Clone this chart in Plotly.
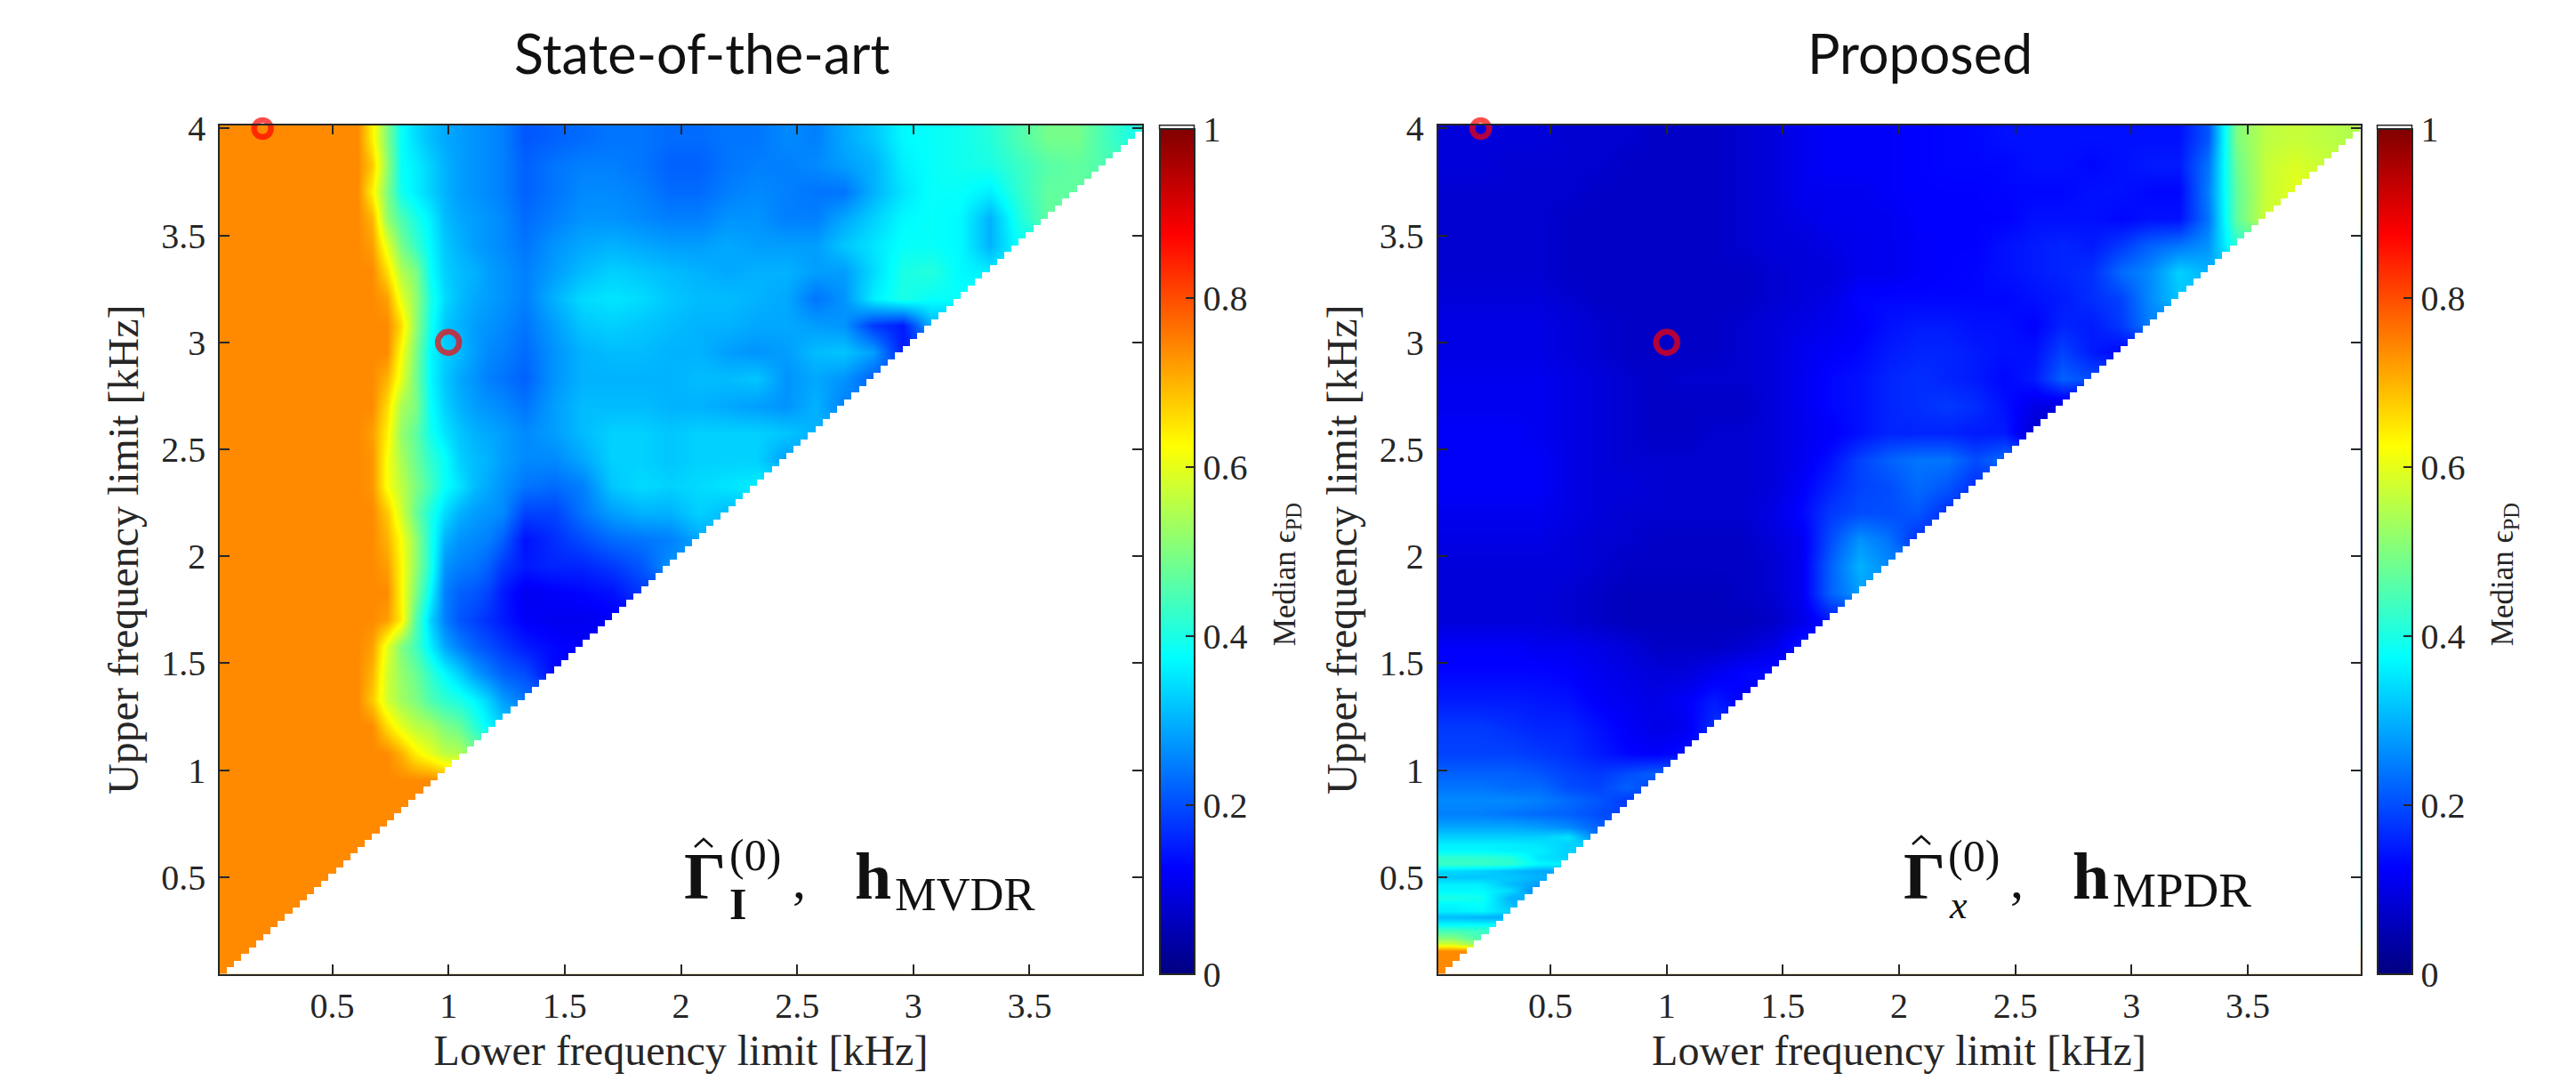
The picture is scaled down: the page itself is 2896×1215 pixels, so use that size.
import numpy as np
import plotly.graph_objects as go

TICKS_X = [0.5, 1, 1.5, 2, 2.5, 3, 3.5]
TICKS_Y = [0.5, 1, 1.5, 2, 2.5, 3, 3.5, 4]
TICKS_C = [0, 0.2, 0.4, 0.6, 0.8, 1]
MARK_X = [0.2, 1]
MARK_Y = [4, 3]

# width (in 31.25 Hz bins) of each typed column / height of each typed row, top row first
LEFT_COL_BINS = [2, 14] + [2] * 12 + [4] * 22
LEFT_ROW_BINS = [4] * 32
RIGHT_COL_BINS = [4] * 32
RIGHT_ROW_BINS = [4] * 24 + [2] * 5 + [1] * 21

LEFT_LOW = [
[.74,.74,.74,.74,.64,.50,.38,.34,.31,.29,.28,.27,.26,.25],
[.74,.74,.74,.74,.68,.52,.38,.36,.33,.30,.28,.27,.26,.25],
[.74,.74,.74,.74,.64,.50,.39,.36,.33,.30,.28,.27,.26,.25],
[.74,.74,.74,.74,.70,.52,.45,.40,.36,.31,.29,.28,.27,.26],
[.74,.74,.74,.74,.72,.60,.49,.43,.37,.32,.30,.28,.27,.26],
[.74,.74,.74,.74,.74,.66,.55,.50,.38,.33,.31,.30,.28,.27],
[.74,.74,.74,.74,.74,.72,.60,.52,.40,.34,.31,.29,.28,.27],
[.74,.74,.74,.74,.74,.74,.66,.52,.39,.32,.30,.28,.27,.26],
[.74,.74,.74,.74,.74,.74,.62,.50,.37,.33,.31,.28,.26,.25],
[.74,.74,.74,.74,.74,.70,.60,.49,.37,.32,.29,.27,.25,.24],
[.74,.74,.74,.74,.74,.66,.54,.50,.38,.33,.30,.28,.27,.26],
[.74,.74,.74,.74,.72,.64,.52,.47,.39,.35,.32,.30,.29,.28],
[.74,.74,.74,.74,.73,.62,.54,.48,.42,.38,.33,.31,.30,.28],
[.74,.74,.74,.74,.73,.62,.56,.50,.44,.38,.35,.31,.29,.27],
[.74,.74,.74,.74,.74,.68,.58,.48,.40,.34,.30,.28,.27,.26],
[.74,.74,.74,.74,.74,.70,.62,.52,.40,.30,.27,.26,.25,.22],
[.74,.74,.74,.74,.74,.72,.63,.52,.40,.27,.25,.24,.22,.18],
[.74,.74,.74,.74,.74,.74,.63,.50,.37,.25,.22,.21,.19,.15],
[.74,.74,.74,.74,.74,.72,.64,.46,.33,.25,.21,.19,.17,.15],
[.74,.74,.74,.74,.72,.60,.50,.44,.36,.29,.25,.22,.20,.18],
[.74,.74,.74,.74,.70,.58,.52,.48,.42,.37,.33,.28,.25,.22],
[.74,.74,.74,.74,.68,.58,.53,.50,.45,.42,.40,.37,.33,.28],
[.74,.74,.74,.74,.74,.66,.60,.56,.54,.50,.48,.42,.37,.33],
[.74,.74,.74,.74,.74,.74,.70,.64,.60,.56,.55,.50],
[.74,.74,.74,.74,.74,.74,.74,.74,.74,.72],
[.74,.74,.74,.74,.74,.74,.74,.74],
[.74,.74,.74,.74,.74,.74],
[.74,.74,.74,.74],
[.74,.74],
[.74,.74],
[.74,.74],
[.74,.74],
]
LEFT_HIGH = [
[.21,.22,.23,.24,.24,.23,.23,.24,.24,.26,.25,.29,.32,.37,.38,.39,.41,.45,.49,.49,.44,.40],
[.22,.24,.25,.25,.24,.22,.22,.24,.25,.25,.26,.28,.30,.36,.38,.39,.40,.43,.46,.47,.45],
[.22,.24,.26,.26,.25,.23,.23,.25,.26,.25,.24,.24,.30,.35,.38,.38,.36,.42,.47,.47],
[.23,.25,.27,.27,.26,.25,.25,.27,.27,.25,.25,.29,.33,.37,.38,.37,.30,.40,.47],
[.24,.27,.29,.30,.29,.28,.28,.29,.28,.28,.28,.32,.35,.38,.38,.37,.30,.38],
[.25,.28,.31,.33,.32,.31,.30,.29,.30,.30,.28,.28,.34,.40,.41,.37,.36],
[.25,.30,.34,.35,.34,.32,.31,.31,.30,.29,.24,.27,.36,.40,.38,.38],
[.24,.28,.32,.33,.32,.31,.30,.30,.29,.29,.28,.27,.18,.15,.30],
[.23,.27,.30,.31,.31,.30,.30,.28,.27,.28,.31,.32,.28,.15],
[.22,.27,.30,.30,.30,.30,.31,.31,.32,.27,.29,.27,.22],
[.24,.28,.31,.31,.31,.30,.30,.29,.28,.27,.30,.25],
[.26,.28,.31,.33,.33,.32,.33,.33,.33,.32,.30],
[.26,.26,.29,.33,.33,.32,.33,.33,.33,.28],
[.24,.23,.25,.32,.34,.33,.34,.35,.36],
[.19,.19,.24,.28,.30,.30,.33,.31],
[.14,.17,.20,.23,.24,.25,.29],
[.15,.16,.16,.18,.21,.27],
[.11,.12,.13,.14,.18],
[.12,.11,.11,.12],
[.15,.13,.12],
[.20,.13],
[.24],
]
RIGHT_VALUES = [
[.09,.09,.09,.09,.08,.08,.08,.07,.07,.07,.08,.09,.11,.12,.12,.12,.125,.13,.13,.14,.14,.14,.14,.14,.14,.14,.21,.50,.56,.57,.56,.55],
[.09,.09,.08,.08,.08,.08,.07,.07,.07,.07,.08,.09,.11,.12,.12,.12,.125,.13,.13,.13,.14,.14,.13,.14,.15,.15,.24,.48,.57,.59,.57],
[.08,.08,.08,.08,.08,.07,.07,.07,.07,.07,.08,.09,.11,.11,.11,.12,.125,.125,.125,.13,.13,.13,.14,.14,.13,.13,.25,.47,.57,.60],
[.08,.08,.08,.08,.07,.07,.07,.07,.07,.07,.08,.09,.10,.11,.11,.11,.125,.125,.125,.125,.14,.14,.14,.13,.14,.14,.24,.47,.58],
[.08,.08,.08,.08,.07,.07,.07,.07,.07,.07,.08,.09,.09,.10,.11,.11,.12,.125,.125,.14,.15,.16,.15,.18,.22,.24,.27,.42],
[.08,.08,.08,.08,.07,.07,.07,.07,.07,.07,.07,.08,.09,.09,.11,.11,.12,.125,.13,.14,.15,.16,.17,.23,.26,.33,.30],
[.09,.09,.09,.09,.08,.07,.07,.07,.07,.07,.07,.08,.09,.10,.13,.13,.13,.13,.13,.13,.14,.15,.17,.19,.26,.32],
[.10,.10,.10,.10,.09,.08,.07,.07,.07,.07,.08,.09,.10,.11,.12,.14,.15,.15,.14,.14,.125,.16,.15,.18,.25],
[.10,.10,.10,.10,.09,.08,.07,.07,.07,.07,.08,.09,.11,.12,.13,.15,.16,.16,.15,.14,.14,.19,.15,.13],
[.11,.11,.11,.11,.10,.09,.08,.07,.08,.08,.08,.09,.11,.13,.14,.16,.17,.16,.15,.13,.15,.22,.20],
[.11,.11,.11,.11,.10,.09,.08,.07,.07,.07,.07,.09,.11,.13,.14,.16,.17,.18,.17,.14,.10,.09],
[.12,.12,.12,.11,.10,.09,.08,.07,.07,.08,.08,.09,.11,.12,.14,.16,.16,.16,.15,.15,.08],
[.12,.12,.12,.12,.10,.09,.08,.08,.08,.08,.08,.09,.11,.14,.19,.22,.24,.24,.20,.23],
[.12,.12,.12,.12,.10,.09,.09,.08,.08,.08,.08,.09,.12,.16,.19,.20,.23,.21,.17],
[.11,.11,.11,.11,.10,.09,.08,.08,.08,.08,.08,.10,.13,.18,.20,.20,.21,.17],
[.10,.10,.10,.10,.09,.08,.08,.07,.07,.07,.07,.09,.11,.20,.27,.24,.17],
[.09,.09,.09,.09,.09,.08,.07,.07,.07,.07,.07,.08,.11,.22,.30,.26],
[.09,.09,.09,.09,.08,.07,.06,.06,.06,.06,.07,.08,.11,.22,.28],
[.09,.09,.09,.09,.08,.07,.06,.06,.06,.06,.06,.07,.10,.15],
[.12,.12,.12,.11,.11,.10,.09,.07,.07,.07,.08,.10,.15],
[.13,.13,.13,.13,.125,.11,.10,.09,.09,.11,.13,.14],
[.15,.15,.15,.145,.14,.12,.11,.10,.12,.15,.12],
[.18,.18,.17,.16,.16,.14,.12,.10,.11,.17],
[.19,.19,.19,.18,.17,.15,.13,.12,.14],
[.22,.22,.22,.21,.19,.18,.20,.22],
[.24,.24,.23,.23,.20,.19,.22,.19],
[.26,.26,.26,.25,.23,.21,.18],
[.25,.25,.24,.23,.22,.20,.19],
[.29,.29,.29,.28,.26,.22],
[.33,.33,.33,.33,.35,.24],
[.36,.36,.36,.35,.33],
[.37,.37,.36,.36,.33],
[.42,.42,.41,.35,.33],
[.43,.43,.42,.37,.36],
[.34,.33,.31,.29],
[.32,.32,.32,.30],
[.36,.36,.31,.28],
[.37,.37,.34,.24],
[.40,.39,.30],
[.37,.38,.31],
[.36,.37,.33],
[.31,.30,.29],
[.37,.37],
[.44,.43],
[.50,.44],
[.58,.50],
[.74],
[.74],
[.74],
[.74],
]

BIN = 0.03125
K = np.arange(1, 128)
J = np.arange(2, 129)


def grid(rows, row_bins, col_bins):
    """Typed values on their own (uneven) grid; short rows hold their last value up to the panel edge."""
    n = len(col_bins)
    z = np.array([row + [row[-1]] * (n - len(row)) for row in rows], dtype=float)[::-1]
    col_end = np.minimum(np.cumsum(col_bins), 127)
    col_start = np.r_[0, col_end[:-1]]
    x = (col_start + col_end + 1) / 2 * BIN
    row_top = 128 - np.r_[0, np.cumsum(row_bins)[:-1]]
    row_bottom = np.maximum(row_top - np.array(row_bins) + 1, 2)
    y = ((row_top + row_bottom) / 2 * BIN)[::-1]
    return x, y, z


left_rows = [a + (LEFT_HIGH[i] if i < len(LEFT_HIGH) else []) for i, a in enumerate(LEFT_LOW)]
GRIDS = [grid(left_rows, LEFT_ROW_BINS, LEFT_COL_BINS), grid(RIGHT_VALUES, RIGHT_ROW_BINS, RIGHT_COL_BINS)]

# white stair-stepped cover: every bin whose lower limit is not below its upper limit has no value
empty_cells = np.where(K[None, :] >= J[:, None], 1.0, np.nan)

W, H = 2896, 1215
BODY = 8  # default page margin round the figure
FW, FH = W - 2 * BODY, H - 2 * BODY
JET = [[0, "rgb(0,0,128)"], [.125, "rgb(0,0,255)"], [.375, "rgb(0,255,255)"],
       [.625, "rgb(255,255,0)"], [.875, "rgb(255,0,0)"], [1, "rgb(128,0,0)"]]
SERIF = "Liberation Serif"
INK = "#262626"
TOP, BOTTOM = 140.7, 1094.7
CB_TOP = 144.7
PANELS = [(247, 1284, 1303.5, 1342.5), (1616.5, 2653.5, 2672.5, 2711.5)]


def px(x):
    return (x - BODY) / FW


def py(y):
    return 1 - (y - BODY) / FH


fig = go.Figure()
for i, ((gx, gy, z), (x0, x1, c0, c1)) in enumerate(zip(GRIDS, PANELS)):
    n = "" if i == 0 else "2"
    fig.add_trace(go.Heatmap(
        x=gx, y=gy, z=z, zmin=0, zmax=1, colorscale=JET, zsmooth="best",
        xaxis="x" + n, yaxis="y" + n,
        colorbar=dict(x=px(c0), xanchor="left", y=py(BOTTOM), yanchor="bottom",
                      len=(BOTTOM - CB_TOP) / FH, thickness=c1 - c0, thicknessmode="pixels",
                      xpad=0, ypad=0, outlinewidth=2, outlinecolor=INK,
                      ticks="inside", ticklen=11, tickwidth=1.5, tickcolor=INK,
                      tickvals=TICKS_C, ticktext=["0", "0.2", "0.4", "0.6", "0.8", "1"],
                      tickfont=dict(family=SERIF, size=40, color=INK)),
    ))
    fig.add_trace(go.Heatmap(
        x=K * BIN, y=J * BIN, z=empty_cells, zmin=0, zmax=1, showscale=False, hoverinfo="skip",
        colorscale=[[0, "white"], [1, "white"]], xaxis="x" + n, yaxis="y" + n,
    ))
    fig.add_trace(go.Scatter(
        x=MARK_X, y=MARK_Y, mode="markers", cliponaxis=False, showlegend=False,
        xaxis="x" + n, yaxis="y" + n,
        marker=dict(symbol="circle-open", color="#ff0000", size=[19, 24], line=dict(width=6.5, color="#ff0000")),
    ))
    common = dict(showgrid=False, zeroline=False, showline=True, linecolor=INK, linewidth=1.5,
                  mirror="ticks", ticks="inside", ticklen=11, tickwidth=1.5, tickcolor=INK,
                  tickfont=dict(family=SERIF, size=40, color=INK))
    fig.update_layout({
        "xaxis" + n: dict(domain=[px(x0), px(x1)], range=[BIN * .5, BIN * 127.5], tickvals=TICKS_X,
                          ticktext=["0.5", "1", "1.5", "2", "2.5", "3", "3.5"],
                          title=dict(text="Lower frequency limit [kHz]", standoff=12,
                                     font=dict(family=SERIF, size=48, color=INK)),
                          anchor="y" + n, **common),
        "yaxis" + n: dict(domain=[py(BOTTOM), py(TOP)], range=[BIN * 1.5, BIN * 128.5], tickvals=TICKS_Y,
                          ticktext=["0.5", "1", "1.5", "2", "2.5", "3", "3.5", "4"],
                          ticklabelstandoff=6,
                          title=dict(text="Upper frequency limit [kHz]", standoff=10,
                                     font=dict(family=SERIF, size=48, color=INK)),
                          anchor="x" + n, **common),
    })

shapes = []
annotations = []


def note(text, x, y, size, bold=False, xanchor="left", yanchor="middle", angle=0, family=SERIF, color="#111111"):
    annotations.append(dict(text=f"<b>{text}</b>" if bold else text, x=px(x), y=py(y), xref="paper", yref="paper",
                            showarrow=False, xanchor=xanchor, yanchor=yanchor, textangle=angle,
                            font=dict(family=family, size=size, color=color)))


def hat(x_mid, y_top):
    shapes.append(dict(type="path", xref="paper", yref="paper", layer="above",
                       path=f"M {px(x_mid - 10)} {py(y_top + 9)} L {px(x_mid)} {py(y_top)} L {px(x_mid + 10)} {py(y_top + 9)}",
                       line=dict(color="#111111", width=2.5)))


for (x0, x1, c0, c1), title in zip(PANELS, ["State-of-the-art", "Proposed"]):
    shapes.append(dict(type="rect", xref="paper", yref="paper", x0=px(c0), x1=px(c1), y0=py(CB_TOP), y1=py(TOP),
                       line=dict(color=INK, width=1.5), fillcolor="white"))
    note(title, (x0 + x1) / 2 + 23, 59, 61, xanchor="center", family="Lato", color="#111111")
    note("Median ϵ<sub>PD</sub>", c1 + 104, (TOP + BOTTOM) / 2 + 28, 35, xanchor="center", angle=-90, color=INK)

# formula labels
note("Γ", 767, 985, 74, bold=True)
hat(791, 943)
note("(0)", 818, 961, 50)
note("I", 818, 1016, 50, bold=True)
note(",", 889, 989, 60)
note("h", 959, 985, 74, bold=True)
note("MVDR", 1004, 1005, 52.5)

note("Γ", 2138, 985, 74, bold=True)
hat(2160, 940)
note("(0)", 2188, 962, 50)
note("<i>x</i>", 2189, 1017, 44)
note(",", 2258, 989, 60)
note("h", 2328, 985, 74, bold=True)
note("MPDR", 2373, 1000, 55)

fig.update_layout(width=FW, height=FH, margin=dict(l=0, r=0, t=0, b=0, autoexpand=False), paper_bgcolor="white",
                  plot_bgcolor="white", showlegend=False, shapes=shapes, annotations=annotations)
fig.write_html("out.html")
